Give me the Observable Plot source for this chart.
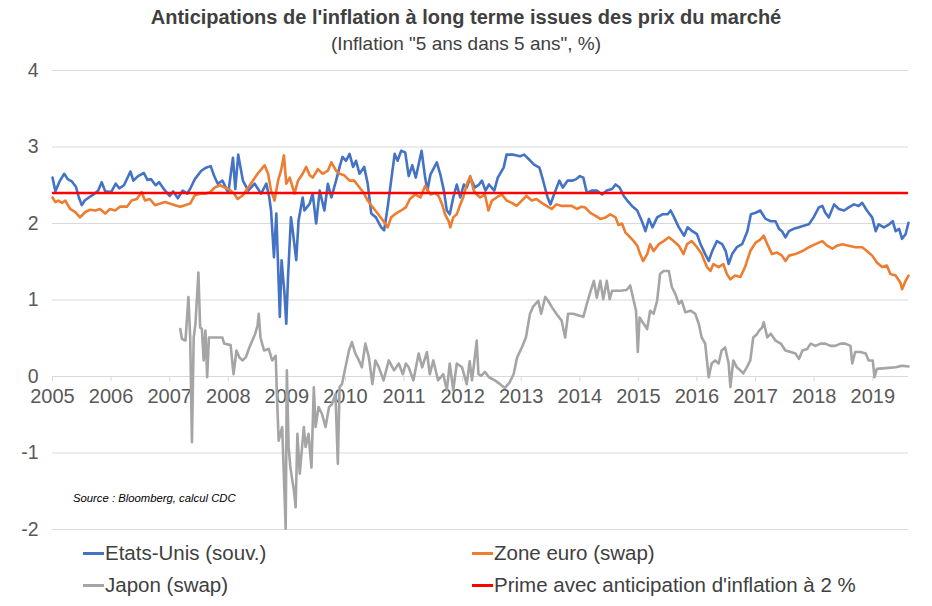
<!DOCTYPE html>
<html><head><meta charset="utf-8">
<script src="https://cdn.jsdelivr.net/npm/d3@7"></script>
<script src="https://cdn.jsdelivr.net/npm/@observablehq/plot@0.6"></script>
<style>
body{margin:0;background:#fff;font-family:"Liberation Sans",Arial,sans-serif;}
#wrap{position:relative;width:932px;height:606px;overflow:hidden;}
.title{position:absolute;left:0;width:932px;text-align:center;top:6px;font-weight:bold;font-size:20px;color:#404040;}
.subtitle{position:absolute;left:0;width:932px;text-align:center;top:33px;font-size:19px;color:#404040;}
#chart{position:absolute;top:58px;left:0;}
.source{position:absolute;left:73px;top:492px;font-style:italic;font-size:11.3px;color:#000;}
.leg{position:absolute;font-size:20.5px;color:#404040;display:flex;align-items:center;line-height:24px;white-space:nowrap;}
.sw{width:21px;height:3px;margin-right:1px;}
</style></head>
<body>
<div id="wrap">
<div class="title">Anticipations de l'inflation à long terme issues des prix du marché</div>
<div class="subtitle">(Inflation "5 ans dans 5 ans", %)</div>
<div id="chart"></div>
<div class="source">Source : Bloomberg, calcul CDC</div>
<div id="legend"></div>
</div>
<script>
const yearTicks = [2005,2006,2007,2008,2009,2010,2011,2012,2013,2014,2015,2016,2017,2018,2019];
const yTicks = [-2,-1,0,1,2,3,4];
const seriesNames = ["Etats-Unis (souv.)","Zone euro (swap)","Japon (swap)","Prime avec anticipation d'inflation à 2 %"];
const seriesColors = ["#4472C4","#ED7D31","#A5A5A5","#FF0000"];
const primeValue = [2.4];

const usYears = [2005.00,2005.05,2005.12,2005.20,2005.26,2005.33,2005.40,2005.45,2005.50,2005.55,2005.62,2005.70,2005.78,2005.84,2005.90,2006.00,2006.08,2006.14,2006.22,2006.33,2006.38,2006.46,2006.56,2006.62,2006.68,2006.76,2006.82,2006.90,2007.00,2007.06,2007.14,2007.22,2007.30,2007.36,2007.43,2007.54,2007.62,2007.70,2007.76,2007.82,2007.90,2008.00,2008.08,2008.12,2008.17,2008.25,2008.34,2008.45,2008.56,2008.65,2008.70,2008.73,2008.78,2008.82,2008.88,2008.91,2008.96,2008.99,2009.02,2009.07,2009.10,2009.16,2009.20,2009.27,2009.30,2009.39,2009.44,2009.50,2009.56,2009.64,2009.70,2009.76,2009.84,2009.90,2009.95,2010.01,2010.07,2010.13,2010.18,2010.24,2010.32,2010.38,2010.44,2010.52,2010.61,2010.66,2010.72,2010.78,2010.84,2010.89,2010.95,2011.02,2011.08,2011.14,2011.20,2011.30,2011.36,2011.40,2011.45,2011.56,2011.62,2011.68,2011.73,2011.78,2011.84,2011.90,2011.96,2012.02,2012.07,2012.13,2012.21,2012.28,2012.33,2012.39,2012.45,2012.54,2012.60,2012.70,2012.75,2012.87,2012.98,2013.05,2013.13,2013.22,2013.31,2013.36,2013.45,2013.50,2013.56,2013.65,2013.71,2013.79,2013.87,2013.94,2014.00,2014.06,2014.12,2014.20,2014.29,2014.38,2014.46,2014.55,2014.61,2014.68,2014.75,2014.81,2014.89,2014.98,2015.06,2015.12,2015.18,2015.24,2015.32,2015.41,2015.50,2015.55,2015.61,2015.69,2015.78,2015.84,2015.92,2016.00,2016.06,2016.14,2016.20,2016.26,2016.34,2016.43,2016.49,2016.54,2016.60,2016.68,2016.77,2016.86,2016.92,2017.00,2017.08,2017.17,2017.26,2017.34,2017.40,2017.45,2017.51,2017.57,2017.65,2017.74,2017.82,2017.91,2017.99,2018.08,2018.14,2018.19,2018.25,2018.34,2018.42,2018.51,2018.59,2018.68,2018.76,2018.82,2018.90,2018.99,2019.05,2019.10,2019.19,2019.28,2019.34,2019.39,2019.45,2019.50,2019.56,2019.61];
const usValues = [2.60,2.42,2.55,2.65,2.58,2.55,2.48,2.34,2.24,2.30,2.34,2.38,2.43,2.54,2.42,2.41,2.52,2.46,2.50,2.68,2.56,2.62,2.66,2.57,2.58,2.50,2.54,2.45,2.36,2.42,2.33,2.43,2.39,2.47,2.58,2.69,2.73,2.75,2.62,2.52,2.56,2.40,2.86,2.45,2.90,2.56,2.43,2.52,2.39,2.52,2.34,2.17,1.56,2.13,0.78,1.52,1.08,0.69,1.30,2.08,1.91,1.52,2.04,2.34,2.17,2.26,2.39,2.00,2.43,2.17,2.52,2.34,2.56,2.74,2.87,2.82,2.91,2.74,2.82,2.65,2.74,2.52,2.13,2.08,1.95,1.91,2.21,2.56,2.91,2.82,2.95,2.93,2.62,2.76,2.60,2.95,2.60,2.43,2.64,2.80,2.64,2.43,2.17,2.12,2.34,2.51,2.34,2.51,2.47,2.60,2.47,2.51,2.56,2.43,2.51,2.43,2.60,2.73,2.90,2.90,2.88,2.90,2.84,2.77,2.73,2.60,2.34,2.25,2.38,2.56,2.47,2.56,2.56,2.58,2.62,2.60,2.40,2.43,2.43,2.38,2.43,2.45,2.51,2.47,2.36,2.30,2.23,2.17,2.03,1.90,2.06,1.95,2.08,2.12,2.12,2.17,2.08,1.95,1.84,1.95,1.90,1.86,1.73,1.60,1.51,1.64,1.77,1.73,1.64,1.47,1.60,1.69,1.73,1.90,2.12,2.14,2.17,2.06,2.03,2.03,1.93,1.90,1.82,1.90,1.93,1.95,1.97,1.99,2.08,2.21,2.23,2.14,2.08,2.25,2.19,2.17,2.21,2.25,2.23,2.27,2.17,2.08,1.90,1.99,1.95,1.99,2.03,1.90,1.93,1.80,1.86,2.01];

const euYears = [2005.00,2005.05,2005.10,2005.16,2005.22,2005.30,2005.39,2005.47,2005.56,2005.64,2005.73,2005.81,2005.90,2005.98,2006.07,2006.15,2006.27,2006.35,2006.44,2006.52,2006.58,2006.66,2006.75,2006.84,2006.92,2007.00,2007.09,2007.18,2007.26,2007.35,2007.43,2007.52,2007.60,2007.69,2007.77,2007.86,2007.94,2008.03,2008.10,2008.16,2008.25,2008.34,2008.42,2008.50,2008.62,2008.68,2008.73,2008.79,2008.85,2008.90,2008.95,2008.99,2009.05,2009.13,2009.19,2009.27,2009.33,2009.39,2009.44,2009.53,2009.61,2009.70,2009.76,2009.84,2009.90,2009.98,2010.07,2010.15,2010.24,2010.32,2010.38,2010.47,2010.55,2010.64,2010.72,2010.78,2010.86,2010.95,2011.03,2011.10,2011.19,2011.28,2011.36,2011.45,2011.53,2011.59,2011.65,2011.70,2011.76,2011.79,2011.84,2011.90,2011.96,2012.01,2012.07,2012.13,2012.19,2012.24,2012.30,2012.38,2012.44,2012.50,2012.58,2012.67,2012.75,2012.84,2012.92,2013.01,2013.09,2013.18,2013.26,2013.35,2013.43,2013.52,2013.60,2013.69,2013.78,2013.86,2013.95,2014.03,2014.09,2014.18,2014.27,2014.35,2014.44,2014.52,2014.61,2014.66,2014.72,2014.78,2014.86,2014.92,2014.98,2015.03,2015.08,2015.15,2015.20,2015.26,2015.35,2015.43,2015.52,2015.60,2015.69,2015.77,2015.83,2015.91,2016.00,2016.08,2016.17,2016.23,2016.28,2016.37,2016.45,2016.51,2016.57,2016.65,2016.74,2016.82,2016.91,2017.00,2017.08,2017.14,2017.20,2017.28,2017.37,2017.45,2017.51,2017.57,2017.68,2017.80,2017.91,2018.02,2018.14,2018.22,2018.31,2018.39,2018.48,2018.59,2018.70,2018.82,2018.90,2018.99,2019.07,2019.16,2019.24,2019.30,2019.39,2019.47,2019.50,2019.56,2019.61];
const euValues = [2.34,2.28,2.30,2.27,2.30,2.19,2.15,2.08,2.15,2.18,2.17,2.19,2.13,2.19,2.17,2.22,2.22,2.30,2.32,2.41,2.30,2.32,2.24,2.26,2.28,2.26,2.24,2.22,2.24,2.26,2.37,2.39,2.39,2.41,2.47,2.50,2.47,2.44,2.39,2.32,2.37,2.47,2.56,2.65,2.76,2.65,2.43,2.30,2.56,2.69,2.89,2.52,2.60,2.39,2.56,2.65,2.74,2.63,2.60,2.71,2.65,2.69,2.80,2.69,2.65,2.63,2.56,2.56,2.47,2.39,2.30,2.21,2.13,2.04,1.95,2.08,2.13,2.17,2.21,2.32,2.38,2.34,2.49,2.38,2.40,2.36,2.25,2.12,2.03,1.95,2.08,2.12,2.25,2.34,2.51,2.62,2.43,2.38,2.34,2.38,2.17,2.30,2.34,2.38,2.30,2.27,2.23,2.30,2.36,2.30,2.32,2.27,2.23,2.19,2.25,2.23,2.23,2.23,2.19,2.22,2.21,2.14,2.10,2.06,2.08,2.12,2.08,1.98,2.00,1.88,1.82,1.77,1.71,1.60,1.51,1.60,1.73,1.64,1.73,1.77,1.82,1.77,1.71,1.60,1.73,1.77,1.69,1.60,1.43,1.38,1.47,1.43,1.47,1.34,1.27,1.32,1.30,1.43,1.64,1.75,1.79,1.84,1.73,1.60,1.62,1.58,1.51,1.58,1.60,1.64,1.69,1.73,1.77,1.71,1.67,1.71,1.73,1.71,1.69,1.69,1.64,1.58,1.49,1.43,1.45,1.34,1.32,1.23,1.14,1.25,1.32];

const jpYears = [2007.18,2007.21,2007.27,2007.32,2007.35,2007.38,2007.41,2007.44,2007.49,2007.52,2007.55,2007.58,2007.61,2007.64,2007.67,2007.81,2007.90,2007.93,2008.04,2008.09,2008.14,2008.19,2008.24,2008.30,2008.35,2008.41,2008.46,2008.50,2008.52,2008.55,2008.61,2008.69,2008.75,2008.81,2008.83,2008.86,2008.92,2008.95,2008.98,2009.00,2009.03,2009.06,2009.12,2009.15,2009.18,2009.22,2009.26,2009.29,2009.32,2009.37,2009.42,2009.46,2009.49,2009.54,2009.60,2009.66,2009.72,2009.77,2009.83,2009.87,2009.90,2009.94,2010.00,2010.06,2010.11,2010.17,2010.23,2010.28,2010.34,2010.40,2010.46,2010.51,2010.57,2010.65,2010.74,2010.83,2010.91,2010.98,2011.03,2011.08,2011.16,2011.25,2011.31,2011.39,2011.44,2011.50,2011.58,2011.67,2011.73,2011.78,2011.84,2011.90,2011.99,2012.07,2012.12,2012.16,2012.20,2012.24,2012.27,2012.32,2012.38,2012.45,2012.55,2012.64,2012.72,2012.80,2012.87,2012.93,2013.01,2013.08,2013.15,2013.20,2013.29,2013.34,2013.41,2013.46,2013.52,2013.60,2013.69,2013.75,2013.80,2013.89,2013.97,2014.06,2014.12,2014.17,2014.24,2014.29,2014.35,2014.40,2014.46,2014.51,2014.55,2014.69,2014.80,2014.86,2014.92,2014.96,2014.99,2015.02,2015.09,2015.15,2015.20,2015.26,2015.32,2015.37,2015.43,2015.52,2015.57,2015.63,2015.69,2015.74,2015.80,2015.89,2015.97,2016.03,2016.08,2016.14,2016.20,2016.25,2016.31,2016.37,2016.42,2016.48,2016.54,2016.57,2016.62,2016.68,2016.74,2016.79,2016.85,2016.91,2016.96,2017.02,2017.06,2017.11,2017.14,2017.20,2017.26,2017.34,2017.43,2017.51,2017.60,2017.68,2017.74,2017.80,2017.88,2017.94,2018.02,2018.11,2018.19,2018.28,2018.36,2018.45,2018.53,2018.62,2018.65,2018.70,2018.79,2018.88,2018.93,2019.00,2019.03,2019.07,2019.22,2019.39,2019.50,2019.61];
const jpValues = [0.62,0.49,0.47,1.04,0.51,-0.86,0.51,0.69,1.36,0.64,0.62,0.21,0.60,-0.01,0.51,0.51,0.51,0.43,0.41,0.03,0.34,0.25,0.21,0.25,0.36,0.47,0.56,0.67,0.82,0.51,0.34,0.36,0.21,0.27,-0.23,-0.84,-0.66,-1.32,-1.99,0.08,-0.92,-1.19,-1.49,-1.71,-0.75,-1.27,-0.92,-0.66,-0.92,-0.75,-1.19,-0.14,-0.66,-0.40,-0.49,-0.66,-0.40,-0.36,-0.23,-1.14,-0.14,-0.10,0.12,0.34,0.45,0.30,0.21,0.12,0.43,0.25,-0.10,0.21,0.12,-0.05,0.21,0.08,0.17,0.03,0.17,0.12,-0.05,0.30,0.12,0.32,0.03,0.21,-0.05,0.03,-0.18,0.17,-0.18,0.17,0.12,-0.10,0.20,-0.05,0.20,0.47,0.03,0.01,0.06,-0.01,-0.05,-0.10,-0.15,-0.08,0.03,0.25,0.38,0.51,0.82,0.91,0.99,0.82,1.04,0.99,0.91,0.82,0.73,0.51,0.82,0.82,0.80,0.78,0.95,1.08,1.25,1.03,1.25,1.01,1.25,1.01,1.12,1.12,1.13,1.19,0.99,0.86,0.32,0.77,0.69,0.62,0.86,0.82,0.99,1.34,1.38,1.38,1.17,1.08,0.95,0.99,0.84,0.86,0.82,0.69,0.51,0.43,-0.01,0.17,0.21,0.17,0.34,0.38,0.17,-0.14,0.21,0.12,0.08,0.04,0.12,0.21,0.51,0.55,0.60,0.64,0.71,0.51,0.56,0.47,0.43,0.34,0.32,0.30,0.23,0.34,0.36,0.43,0.40,0.43,0.43,0.40,0.40,0.43,0.43,0.40,0.17,0.32,0.32,0.30,0.21,0.21,-0.01,0.10,0.11,0.12,0.14,0.13];

const toRows = (ts, vs) => ts.map((t, i) => ({t, v: vs[i]}));
const us = toRows(usYears, usValues);
const eu = toRows(euYears, euValues);
const jp = toRows(jpYears, jpValues);

const chart = Plot.plot({
  width: 932,
  height: 492,
  marginTop: 12,
  marginBottom: 21,
  marginLeft: 52,
  marginRight: 24,
  style: {fontFamily: "'Liberation Sans', Arial, sans-serif", color: "#595959", background: "transparent", overflow: "visible"},
  x: {domain: [2005, 2019.61], axis: null},
  y: {domain: [-2, 4], axis: null},
  marks: [
    Plot.gridY(yTicks, {stroke: "#d9d9d9", strokeOpacity: 1, strokeWidth: 1}),
    Plot.ruleX(yearTicks, {x: d => d, y1: 0, y2: 0, insetBottom: -5, stroke: "#d9d9d9", strokeWidth: 1}),
    Plot.axisY(yTicks, {tickSize: 0, tickPadding: 14, fontSize: 19.5, label: null, tickFormat: d => String(d)}),
    Plot.text(yearTicks, {x: d => d, y: 0, dy: 20, text: d => String(d), fontSize: 20, fill: "#595959"}),
    Plot.line(us, {x: "t", y: "v", stroke: seriesColors[0], strokeWidth: 2.6, strokeLinejoin: "round"}),
    Plot.line(eu, {x: "t", y: "v", stroke: seriesColors[1], strokeWidth: 2.6, strokeLinejoin: "round"}),
    Plot.line(jp, {x: "t", y: "v", stroke: seriesColors[2], strokeWidth: 2.6, strokeLinejoin: "round"}),
    Plot.ruleY(primeValue, {stroke: seriesColors[3], strokeWidth: 2.5})
  ]
});
document.getElementById("chart").appendChild(chart);

const legendPos = [[83, 541], [472, 541], [83, 573], [472, 573]];
const leg = document.getElementById("legend");
seriesNames.forEach((name, i) => {
  const d = document.createElement("div");
  d.className = "leg";
  d.style.left = legendPos[i][0] + "px";
  d.style.top = legendPos[i][1] + "px";
  const sw = document.createElement("span");
  sw.className = "sw";
  sw.style.background = seriesColors[i];
  d.appendChild(sw);
  d.appendChild(document.createTextNode(name));
  leg.appendChild(d);
});
</script>
</body></html>
